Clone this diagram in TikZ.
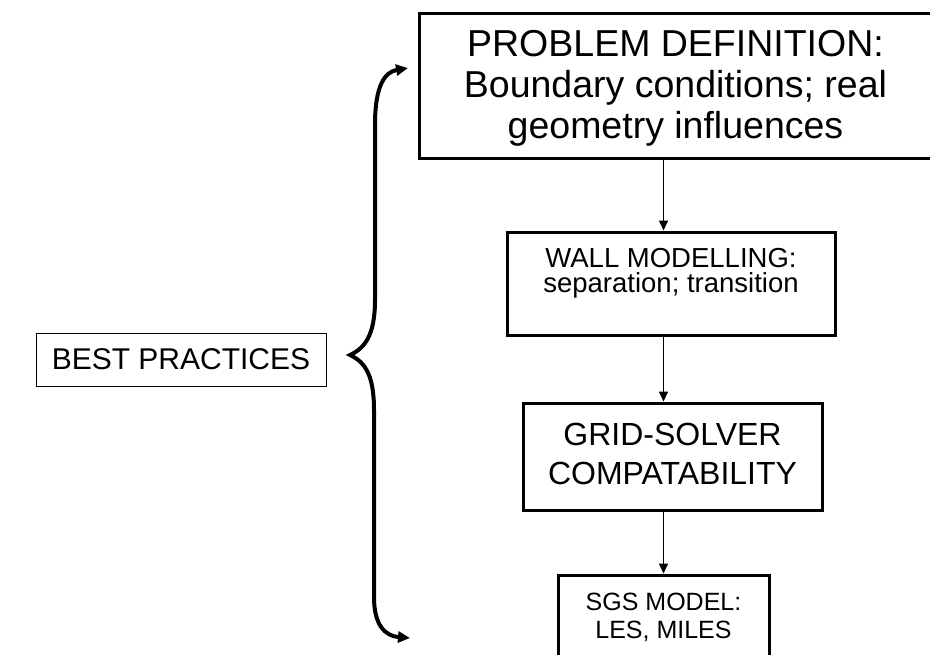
\documentclass[tikz,border=0pt]{standalone}
\usepackage{fontspec}
\setmainfont{Liberation Sans}
\usetikzlibrary{arrows.meta}
\tikzset{
  probbox/.style={rectangle, draw=black, line width=3pt, inner sep=0pt,
                  minimum width=513pt, minimum height=145pt, text depth=2pt,
                  align=center, font=\fontsize{37.5}{41}\selectfont},
  wallbox/.style={rectangle, draw=black, line width=3pt, inner sep=0pt,
                  minimum width=328pt, minimum height=103pt, text depth=26pt,
                  align=center, font=\fontsize{27.5}{25}\selectfont},
  gridbox/.style={rectangle, draw=black, line width=3pt, inner sep=0pt,
                  minimum width=299pt, minimum height=107pt, text depth=5pt,
                  align=center, font=\fontsize{32}{39}\selectfont},
  sgsbox/.style={rectangle, draw=black, line width=3pt, inner sep=0pt,
                 minimum width=211pt, minimum height=85pt,
                 align=center, font=\fontsize{25}{28}\selectfont},
  bestbox/.style={rectangle, draw=black, line width=1pt, inner sep=0pt,
                  minimum width=290pt, minimum height=53pt,
                  align=center, font=\fontsize{30}{36}\selectfont},
  flowarrow/.style={-{Triangle[length=10pt,width=9pt]}, line width=1.6pt},
  bracearrow/.style={{Triangle[length=12pt,width=11pt]}-{Triangle[length=12pt,width=11pt]},
                     line width=4pt},
}
\begin{document}
\begin{tikzpicture}[x=1pt, y=-1pt]
    \useasboundingbox (0,0) rectangle (930,654);

    \node[probbox] (PD) at (675.5,85.5) {
      PROBLEM DEFINITION:\\
      Boundary conditions; real\\
      geometry influences
    };

    \node[wallbox] (WM) at (671,283.5) {
      WALL MODELLING:\\
      separation; transition
    };

    \node[gridbox] (GS) at (672.5,456.5) {
      GRID-SOLVER\\
      COMPATABILITY
    };

    \node[sgsbox] (SGS) at (663.5,617.5) {
      SGS MODEL:\\
      LES, MILES
    };

    \node[bestbox] (BP) at (181,359.5) {BEST PRACTICES};

    \draw[flowarrow] (PD.south -| SGS.north) -- (WM.north -| SGS.north);
    \draw[flowarrow] (WM.south -| SGS.north) -- (GS.north -| SGS.north);
    \draw[flowarrow] (GS.south -| SGS.north) -- (SGS.north);

    % brace
    \coordinate (BT) at (408,68);
    \coordinate (BM) at (350,355);
    \coordinate (BB) at (410,638);
    \draw[bracearrow] (BT) .. controls (385,72) and (375,85) .. (375,125)
      -- (375,300) .. controls (375,335) and (365,348) .. (BM)
      .. controls (365,362) and (374,375) .. (374,410)
      -- (374,597) .. controls (374,625) and (385,636) .. (BB);
  \end{tikzpicture}
\end{document}
